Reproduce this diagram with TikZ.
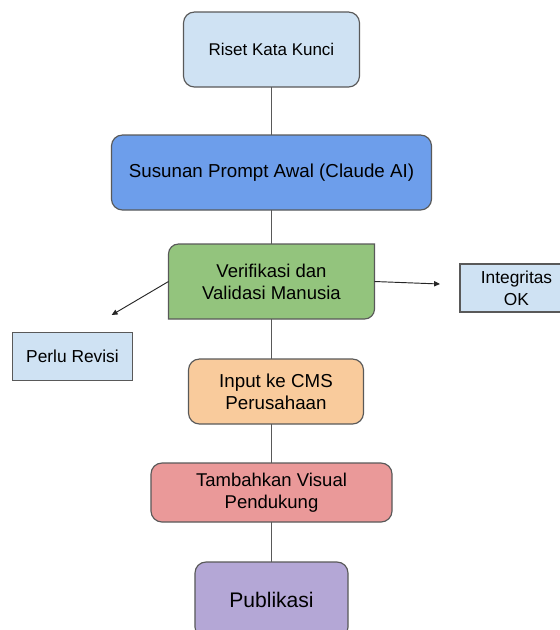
\documentclass[tikz,border=0pt]{standalone}
\usepackage{fontspec}
\setmainfont{Liberation Sans}
\usetikzlibrary{calc}
\usetikzlibrary{arrows.meta}
\usetikzlibrary{backgrounds}

\definecolor{boxline}{HTML}{595959}
\definecolor{paleblue}{HTML}{CFE2F3}
\definecolor{midblue}{HTML}{6D9EEB}
\definecolor{leafgreen}{HTML}{93C47D}
\definecolor{peach}{HTML}{F9CB9C}
\definecolor{rose}{HTML}{EA9999}
\definecolor{lilac}{HTML}{B4A7D6}

\begin{document}
\begin{tikzpicture}[x=0.03cm, y=-0.03cm]
  \tikzset{mybox/.style={draw=boxline, line width=1pt, rounded corners=0.33cm, align=center, inner sep=0pt, outer sep=0pt}};
  \tikzset{sidebox/.style={draw=boxline, line width=1pt, fill=paleblue, align=center, inner sep=0pt, outer sep=0pt, minimum height=1.44cm, font=\fontsize{14.8}{18.8}\selectfont}};
  \tikzset{myline/.style={draw=boxline, line width=0.9pt}};
  \tikzset{myarrow/.style={-{Triangle[length=5pt,width=4.5pt]}, draw=black!85, line width=0.8pt}};

  \useasboundingbox (0,0) rectangle (560,630);

  \node[mybox, fill=paleblue, minimum width=5.28cm, minimum height=2.25cm, font=\fontsize{14.5}{18.8}\selectfont] (riset) at (271.5,49.5) {Riset Kata Kunci};
  \node[mybox, fill=midblue, minimum width=9.6cm, minimum height=2.25cm, font=\fontsize{16}{18.8}\selectfont] (susunan) at (271.5,172.5) {Susunan Prompt Awal (Claude AI)};
  \node[align=center, inner sep=0pt, outer sep=0pt, minimum width=6.18cm, minimum height=2.25cm, font=\fontsize{15.8}{18.8}\selectfont] (verif) at (271.5,281.5) {Verifikasi dan\\Validasi Manusia};
  \node[mybox, fill=peach, minimum width=5.25cm, minimum height=1.95cm, font=\fontsize{16}{18.8}\selectfont] (input) at (276,391.5) {Input ke CMS\\Perusahaan};
  \node[mybox, fill=rose, minimum width=7.23cm, minimum height=1.77cm, font=\fontsize{15.8}{18.8}\selectfont] (tambah) at (271.5,492.5) {Tambahkan Visual\\Pendukung};
  \node[mybox, fill=lilac, minimum width=4.59cm, minimum height=2.28cm, font=\fontsize{18}{20}\selectfont] (publik) at (271.5,600) {Publikasi};

  \node[sidebox, minimum width=3.39cm] (integ) at (516.5,288) {Integritas\\OK};
  \node[sidebox, minimum width=3.6cm] (revisi) at (72.5,356.7) {Perlu Revisi};

  % green box: only two corners rounded
  \begin{pgfonlayer}{background}
    \draw[draw=boxline, line width=1pt, fill=leafgreen] (verif.south west) -- ([yshift=-0.3cm]verif.north west) arc[start angle=180, end angle=90, radius=0.3cm] -- (verif.north east) -- ([yshift=0.3cm]verif.south east) arc[start angle=0, end angle=-90, radius=0.3cm] -- cycle;
  \end{pgfonlayer}

  \draw[myline] (riset.south) -- (susunan.north);
  \draw[myline] (susunan.south) -- (verif.north);
  \draw[myline] (verif.south) -- (verif.south |- input.north);
  \draw[myline] (tambah.north |- input.south) -- (tambah.north);
  \draw[myline] (tambah.south) -- (publik.north);

  \coordinate (revtip) at (111.7,315);
  \coordinate (oktip) at (440,284);
  \draw[myarrow] (verif.west) -- (revtip);
  \draw[myarrow] (verif.east) -- (oktip);
\end{tikzpicture}
\end{document}
